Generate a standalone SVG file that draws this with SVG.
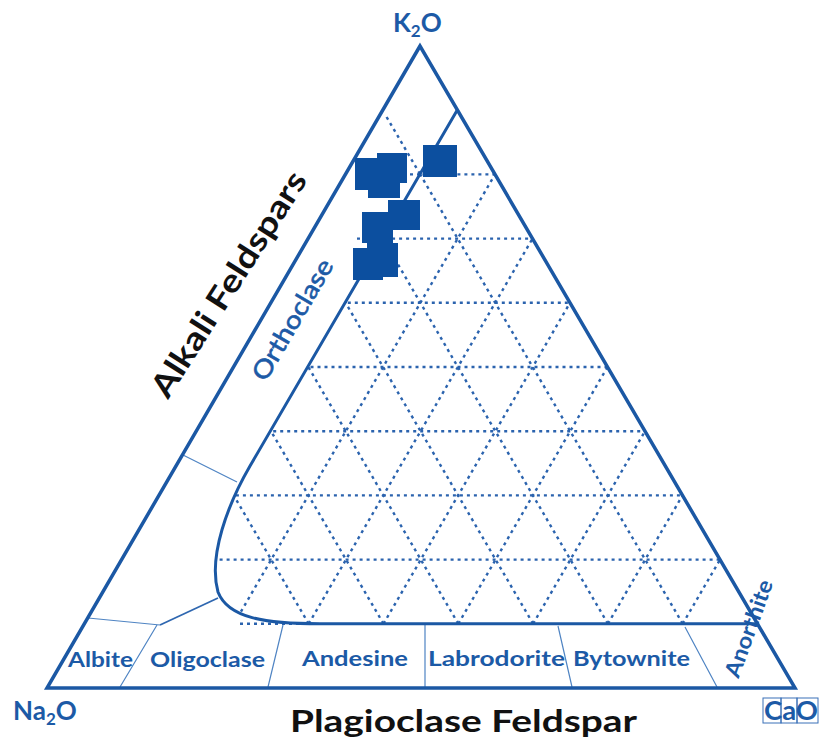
<svg xmlns="http://www.w3.org/2000/svg" width="819" height="740" viewBox="0 0 819 740">
<style>
.frame{fill:none;stroke:#1b58a4;stroke-width:3.5;stroke-linejoin:miter}
.bound{fill:none;stroke:#1b58a4;stroke-width:3}
.grid{fill:none;stroke:#2b63ae;stroke-width:2.4;stroke-dasharray:3 4}
.thin{fill:none;stroke:#4f84c3;stroke-width:1.2}
.mid{fill:none;stroke:#2f67b0;stroke-width:1.8}
.lbl{font-family:Lato,'Open Sans','Liberation Sans',sans-serif;font-weight:bold;fill:#1c5aa6}
.title{font-family:Lato,'Open Sans','Liberation Sans',sans-serif;font-weight:bold;fill:#111}
.pt{fill:#0c4f9f}
.box{fill:none;stroke:#3a70b8;stroke-width:1}
</style>
<defs>
<clipPath id="inner"><path d="M457.3,110 L250,466 C228,504 208,556 218,592 C228,618 265,623.8 320,623.8 L756.5,623.8 Z"/></clipPath>
</defs>
<rect width="819" height="740" fill="#fff"/>

<g id="grid" class="grid">
<g clip-path="url(#inner)">
<path d="M121.6,559.6H720 M158.9,495.4H682.5 M196.2,431.2H645 M233.5,367H607.5 M270.8,302.8H570 M308.1,238.6H532.5 M345.4,174.4H495"/>
<path d="M233.9,623.8L495,174.4 M308.7,623.8L532.5,238.6 M383.5,623.8L570,302.8 M458.3,623.8L607.5,367 M533.1,623.8L645,431.2 M607.9,623.8L682.5,495.4 M682.7,623.8L720,559.6"/>
<path d="M682.7,623.8L382.7,110.2 M607.9,623.8L345.4,174.4 M533.1,623.8L308.1,238.6 M458.3,623.8L270.8,302.8 M383.5,623.8L233.5,367 M308.7,623.8L196.2,431.2 M233.9,623.8L158.9,495.4"/>
</g>
<path d="M386.6,117L420.2,174.4 M357,238.6H383 M410,174.4H420.4 M240,623.8H300"/>
</g>

<g id="dividers">
<path class="thin" d="M88,618L160,625 M183,455L237,482"/>
<path class="mid" d="M160,625L218,598"/>
<path class="thin" d="M157,625L120,687 M283,625L268,687 M425,625V687 M558,626L572,687 M685,627L717,687"/>
</g>

<g id="labels-minerals">
<text class="lbl" x="100.5" y="667" font-size="21" text-anchor="middle" textLength="65" lengthAdjust="spacingAndGlyphs">Albite</text>
<text class="lbl" x="207.5" y="667" font-size="21" text-anchor="middle" textLength="115" lengthAdjust="spacingAndGlyphs">Oligoclase</text>
<text class="lbl" x="355" y="666" font-size="21" text-anchor="middle" textLength="106" lengthAdjust="spacingAndGlyphs">Andesine</text>
<text class="lbl" x="496.5" y="666" font-size="21" text-anchor="middle" textLength="137" lengthAdjust="spacingAndGlyphs">Labrodorite</text>
<text class="lbl" x="631.5" y="666" font-size="21" text-anchor="middle" textLength="117" lengthAdjust="spacingAndGlyphs">Bytownite</text>
<text class="lbl" x="0" y="0" font-size="22" text-anchor="middle" textLength="102" lengthAdjust="spacingAndGlyphs" transform="translate(756,631) rotate(-70)">Anorthite</text>
<text class="lbl" x="0" y="0" font-size="25" text-anchor="middle" textLength="136" lengthAdjust="spacingAndGlyphs" transform="translate(300,324) rotate(-59.8)" style="font-weight:normal;stroke:#1c5aa6;stroke-width:0.6">Orthoclase</text>
</g>

<g id="frame">
<polygon class="frame" points="420,46 47,688 795,688"/>
<path class="bound" d="M457.3,110 L250,466 C228,504 208,556 218,592 C228,618 265,623.8 320,623.8 L756.5,623.8"/>
</g>

<g id="data-points">
<rect class="pt" x="423" y="145" width="34" height="32"/>
<rect class="pt" x="377" y="153" width="30" height="30"/>
<rect class="pt" x="355" y="158" width="30" height="32"/>
<rect class="pt" x="368" y="167" width="32" height="31"/>
<rect class="pt" x="388" y="200" width="32" height="30"/>
<rect class="pt" x="362" y="212" width="31" height="31"/>
<rect class="pt" x="367" y="243" width="31" height="34"/>
<rect class="pt" x="353" y="248" width="30" height="32"/>
</g>

<g id="labels-axes">
<text class="lbl" x="393" y="32" font-size="26">K<tspan font-size="17" dy="5">2</tspan><tspan dy="-5">O</tspan></text>
<text class="lbl" x="13" y="720" font-size="26">Na<tspan font-size="17" dy="5">2</tspan><tspan dy="-5">O</tspan></text>
<rect class="box" x="763" y="698" width="18" height="25"/>
<rect class="box" x="781" y="698" width="16" height="25"/>
<rect class="box" x="797" y="698" width="21" height="25"/>
<text class="lbl" x="764" y="720" font-size="26" textLength="54" lengthAdjust="spacingAndGlyphs">CaO</text>
<text class="title" x="0" y="0" font-size="32" text-anchor="middle" textLength="261" lengthAdjust="spacingAndGlyphs" transform="translate(238,290) rotate(-57.5)">Alkali Feldspars</text>
<text class="title" x="463.5" y="732" font-size="31" text-anchor="middle" textLength="347" lengthAdjust="spacingAndGlyphs">Plagioclase Feldspar</text>
</g>
</svg>
